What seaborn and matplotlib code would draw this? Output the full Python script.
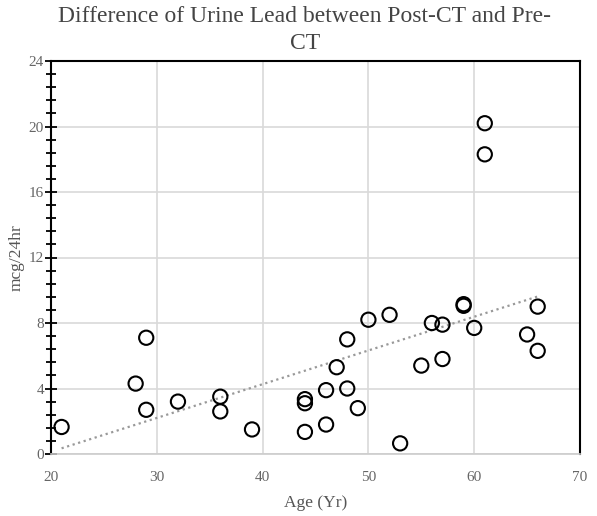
import numpy as np
import pandas as pd
import matplotlib
matplotlib.use("Agg")
import matplotlib.pyplot as plt
import seaborn as sns
from matplotlib.ticker import MultipleLocator

# dados
age = [21, 28, 29, 29, 32, 36, 36, 39, 44, 44, 44, 46, 46, 47, 48, 48, 49,
       50, 52, 53, 55, 56, 57, 57, 59, 59, 60, 61, 61, 65, 66, 66]
lead_diff = [1.65, 4.3, 7.1, 2.7, 3.2, 3.5, 2.6, 1.5, 3.35, 3.1, 1.35, 3.9, 1.8,
             5.3, 7.0, 4.0, 2.8, 8.2, 8.5, 0.65, 5.4, 8.0, 7.9, 5.8, 9.05, 9.15,
             7.7, 20.2, 18.3, 7.3, 9.0, 6.3]

df = pd.DataFrame({"Age": age, "Diff": lead_diff})

sns.set_theme(style="white")
plt.rcParams["font.family"] = ["Liberation Serif", "DejaVu Serif"]

fig = plt.figure(figsize=(5.97, 5.16), dpi=100)
ax = fig.add_axes([51 / 597, 1 - 454 / 516, 529 / 597, 393 / 516])

# linha de tendência (regressão linear)
sns.regplot(data=df, x="Age", y="Diff", scatter=False, ci=None, truncate=True,
            line_kws=dict(color="#999999", lw=1.6, ls=(0, (1, 1.6))), ax=ax)

sns.scatterplot(data=df, x="Age", y="Diff", s=105, facecolor="none",
                edgecolor="black", linewidth=1.5, ax=ax, zorder=3)

ax.set_xlim(20, 70)
ax.set_ylim(0, 24)
ax.xaxis.set_major_locator(MultipleLocator(10))
ax.yaxis.set_major_locator(MultipleLocator(4))
ax.yaxis.set_minor_locator(MultipleLocator(0.8))
ax.grid(True, which="major", color="#d9d9d9", lw=1.2)
ax.set_axisbelow(True)

for side in ["left", "top", "right"]:
    ax.spines[side].set_color("black")
    ax.spines[side].set_linewidth(1.5)
ax.spines["bottom"].set_color("#cccccc")
ax.spines["bottom"].set_linewidth(1.2)

ax.tick_params(axis="y", which="major", left=True, direction="inout", length=8,
               width=1.3, color="black", labelsize=11, labelcolor="#666666", pad=1)
ax.tick_params(axis="y", which="minor", left=True, direction="inout", length=7,
               width=1.3, color="black")
ax.tick_params(axis="x", bottom=False, labelsize=11, labelcolor="#666666", pad=6)

ax.set_xlabel("Age (Yr)", fontsize=12.5, color="#555555", labelpad=8)
ax.set_ylabel("mcg/24hr", fontsize=12.5, color="#555555", labelpad=3)

fig.text(305 / 597, 1 - 6 / 516,
         "Difference of Urine Lead between Post-CT and Pre-\nCT",
         ha="center", va="top", fontsize=17, color="#444444", linespacing=1.4)

fig.savefig("out.png", dpi=100)
